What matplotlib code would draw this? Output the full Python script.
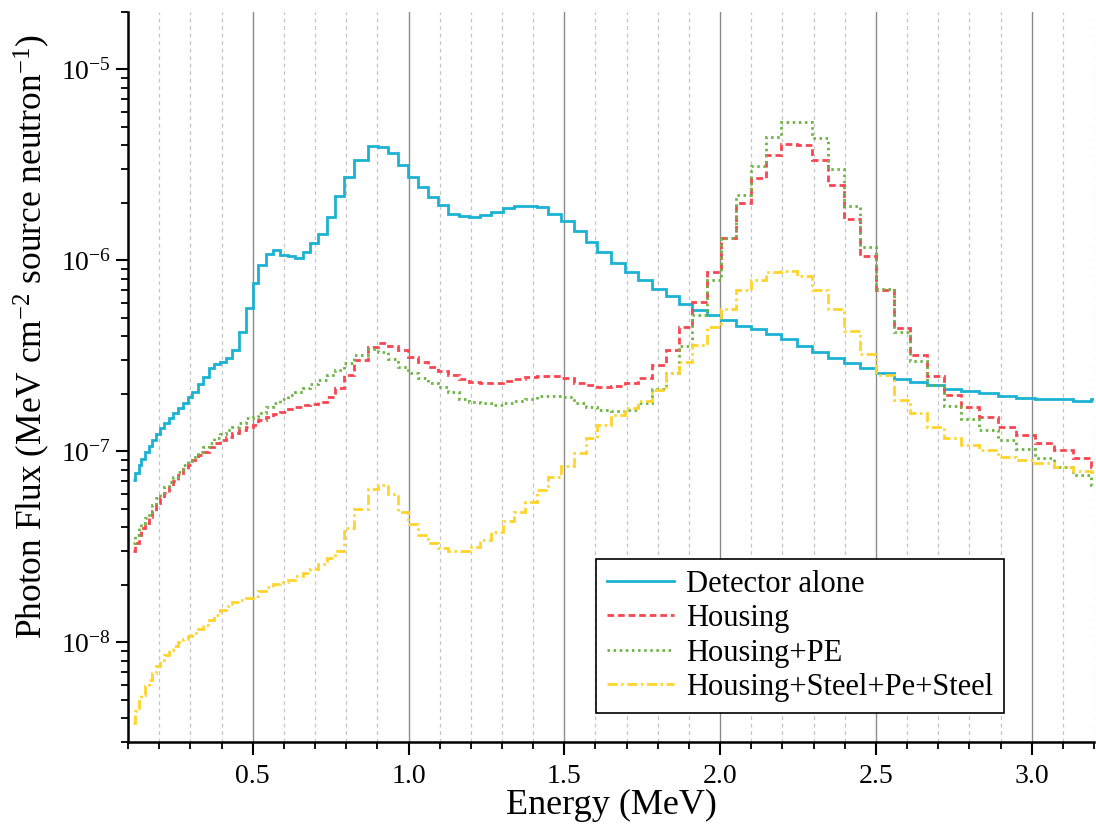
import matplotlib
matplotlib.use("Agg")
import matplotlib.pyplot as plt
from matplotlib.ticker import MultipleLocator, LogLocator, NullFormatter, FixedLocator, FixedFormatter

plt.rcParams['font.family'] = ['Liberation Serif', 'DejaVu Serif']
plt.rcParams['mathtext.fontset'] = 'custom'
plt.rcParams['mathtext.rm'] = 'Liberation Serif'
plt.rcParams['mathtext.it'] = 'Liberation Serif:italic'

# Bin edges (MeV), shared by all spectra
energy_edges = [
    0.116, 0.121, 0.134, 0.142, 0.153, 0.166, 0.178, 0.190, 0.203, 0.217,
    0.231, 0.244, 0.260, 0.276, 0.292, 0.306, 0.324, 0.342, 0.359, 0.377,
    0.396, 0.415, 0.434, 0.455, 0.477, 0.500, 0.518, 0.543, 0.564, 0.589,
    0.613, 0.637, 0.661, 0.685, 0.711, 0.739, 0.764, 0.792, 0.826, 0.869,
    0.901, 0.933, 0.965, 0.997, 1.029, 1.061, 1.094, 1.126, 1.161, 1.195,
    1.229, 1.264, 1.302, 1.339, 1.374, 1.411, 1.449, 1.489, 1.530, 1.569,
    1.606, 1.651, 1.694, 1.735, 1.780, 1.825, 1.868, 1.911, 1.957, 2.002,
    2.050, 2.098, 2.146, 2.194, 2.245, 2.296, 2.346, 2.397, 2.448, 2.501,
    2.557, 2.609, 2.665, 2.718, 2.774, 2.832, 2.892, 2.950, 3.010, 3.070,
    3.131, 3.191, 3.240,
]

detector_alone = [
    7.08e-8, 7.67e-8, 8.48e-8, 9.08e-8, 9.95e-8, 1.066e-7, 1.146e-7, 1.227e-7, 1.319e-7, 1.401e-7,
    1.488e-7, 1.580e-7, 1.678e-7, 1.782e-7, 1.929e-7, 2.049e-7, 2.248e-7, 2.436e-7, 2.716e-7, 2.860e-7,
    2.940e-7, 3.085e-7, 3.413e-7, 4.218e-7, 5.63e-7, 7.61e-7, 9.50e-7, 1.075e-6, 1.137e-6, 1.062e-6,
    1.049e-6, 1.033e-6, 1.105e-6, 1.231e-6, 1.379e-6, 1.684e-6, 2.161e-6, 2.748e-6, 3.36e-6, 3.99e-6,
    3.94e-6, 3.66e-6, 3.16e-6, 2.75e-6, 2.42e-6, 2.14e-6, 1.94e-6, 1.75e-6, 1.70e-6, 1.68e-6,
    1.72e-6, 1.79e-6, 1.88e-6, 1.92e-6, 1.92e-6, 1.90e-6, 1.75e-6, 1.60e-6, 1.42e-6, 1.25e-6,
    1.10e-6, 9.68e-7, 8.69e-7, 7.86e-7, 7.05e-7, 6.51e-7, 5.94e-7, 5.48e-7, 5.20e-7, 4.86e-7,
    4.53e-7, 4.36e-7, 4.10e-7, 3.88e-7, 3.58e-7, 3.32e-7, 3.09e-7, 2.90e-7, 2.72e-7, 2.56e-7,
    2.39e-7, 2.31e-7, 2.22e-7, 2.13e-7, 2.07e-7, 2.01e-7, 1.95e-7, 1.91e-7, 1.88e-7, 1.87e-7,
    1.84e-7, 1.87e-7,
]

housing = [
    2.99e-8, 3.30e-8, 3.65e-8, 3.96e-8, 4.20e-8, 4.55e-8, 4.89e-8, 5.35e-8, 5.68e-8, 6.03e-8,
    6.53e-8, 7.02e-8, 7.52e-8, 8.05e-8, 8.48e-8, 9.01e-8, 9.56e-8, 9.95e-8, 1.057e-7, 1.101e-7,
    1.146e-7, 1.192e-7, 1.242e-7, 1.292e-7, 1.345e-7, 1.373e-7, 1.458e-7, 1.517e-7, 1.567e-7, 1.611e-7,
    1.664e-7, 1.710e-7, 1.739e-7, 1.767e-7, 1.816e-7, 1.929e-7, 2.134e-7, 2.506e-7, 3.00e-7, 3.50e-7,
    3.67e-7, 3.55e-7, 3.41e-7, 3.12e-7, 2.94e-7, 2.77e-7, 2.64e-7, 2.51e-7, 2.40e-7, 2.31e-7,
    2.28e-7, 2.29e-7, 2.34e-7, 2.40e-7, 2.44e-7, 2.47e-7, 2.47e-7, 2.41e-7, 2.28e-7, 2.22e-7,
    2.18e-7, 2.20e-7, 2.27e-7, 2.42e-7, 2.83e-7, 3.38e-7, 4.48e-7, 6.05e-7, 8.69e-7, 1.31e-6,
    1.99e-6, 2.71e-6, 3.58e-6, 4.07e-6, 4.04e-6, 3.37e-6, 2.47e-6, 1.65e-6, 1.06e-6, 7.03e-7,
    4.40e-7, 3.19e-7, 2.49e-7, 1.97e-7, 1.70e-7, 1.51e-7, 1.34e-7, 1.22e-7, 1.10e-7, 1.02e-7,
    9.19e-8, 8.31e-8,
]

housing_pe = [
    3.30e-8, 3.65e-8, 3.96e-8, 4.20e-8, 4.46e-8, 4.83e-8, 5.24e-8, 5.68e-8, 6.03e-8, 6.53e-8,
    6.94e-8, 7.36e-8, 7.82e-8, 8.48e-8, 9.01e-8, 9.37e-8, 9.95e-8, 1.057e-7, 1.101e-7, 1.169e-7,
    1.231e-7, 1.292e-7, 1.345e-7, 1.411e-7, 1.488e-7, 1.506e-7, 1.592e-7, 1.698e-7, 1.782e-7, 1.869e-7,
    1.969e-7, 2.049e-7, 2.134e-7, 2.248e-7, 2.36e-7, 2.51e-7, 2.68e-7, 2.90e-7, 3.18e-7, 3.42e-7,
    3.32e-7, 3.06e-7, 2.75e-7, 2.58e-7, 2.41e-7, 2.27e-7, 2.16e-7, 2.05e-7, 1.89e-7, 1.82e-7,
    1.78e-7, 1.75e-7, 1.78e-7, 1.83e-7, 1.89e-7, 1.95e-7, 1.95e-7, 1.92e-7, 1.80e-7, 1.71e-7,
    1.64e-7, 1.62e-7, 1.64e-7, 1.78e-7, 2.11e-7, 2.56e-7, 3.58e-7, 5.16e-7, 7.93e-7, 1.31e-6,
    2.19e-6, 3.14e-6, 4.45e-6, 5.28e-6, 5.28e-6, 4.36e-6, 3.02e-6, 1.92e-6, 1.17e-6, 7.11e-7,
    4.22e-7, 2.98e-7, 2.23e-7, 1.72e-7, 1.47e-7, 1.30e-7, 1.15e-7, 1.03e-7, 9.26e-8, 8.31e-8,
    7.52e-8, 6.66e-8,
]

housing_steel_pe_steel = [
    3.79e-9, 4.35e-9, 4.91e-9, 5.32e-9, 5.88e-9, 6.37e-9, 6.91e-9, 7.48e-9, 8.11e-9, 8.61e-9,
    9.07e-9, 9.52e-9, 9.99e-9, 1.041e-8, 1.074e-8, 1.118e-8, 1.173e-8, 1.236e-8, 1.312e-8, 1.394e-8,
    1.481e-8, 1.553e-8, 1.616e-8, 1.669e-8, 1.703e-8, 1.737e-8, 1.845e-8, 1.946e-8, 2.018e-8, 2.056e-8,
    2.124e-8, 2.211e-8, 2.30e-8, 2.42e-8, 2.58e-8, 2.76e-8, 3.02e-8, 3.96e-8, 4.97e-8, 6.33e-8,
    6.66e-8, 5.98e-8, 4.83e-8, 4.17e-8, 3.65e-8, 3.30e-8, 3.11e-8, 3.02e-8, 2.99e-8, 3.17e-8,
    3.44e-8, 3.80e-8, 4.29e-8, 4.83e-8, 5.45e-8, 6.28e-8, 7.36e-8, 8.38e-8, 9.76e-8, 1.169e-7,
    1.373e-7, 1.548e-7, 1.678e-7, 1.84e-7, 2.09e-7, 2.56e-7, 2.94e-7, 3.62e-7, 4.48e-7, 5.59e-7,
    6.97e-7, 7.93e-7, 8.69e-7, 8.79e-7, 8.25e-7, 6.97e-7, 5.54e-7, 4.27e-7, 3.23e-7, 2.51e-7,
    1.85e-7, 1.58e-7, 1.345e-7, 1.169e-7, 1.079e-7, 1.02e-7, 9.37e-8, 9.01e-8, 8.66e-8, 8.31e-8,
    7.92e-8, 7.82e-8,
]

series_labels = ["Detector alone", "Housing", "Housing+PE", "Housing+Steel+Pe+Steel"]
x_major_ticks = [0.5, 1.0, 1.5, 2.0, 2.5, 3.0]
x_major_labels = ["0.5", "1.0", "1.5", "2.0", "2.5", "3.0"]

fig = plt.figure(figsize=(10.96, 8.33), dpi=100)
ax = fig.add_axes([0.1168, 0.1092, 0.8815, 0.8764])

styles = [
    dict(color="#1BB2D3", linestyle="-", lw=2.0),
    dict(color="#F8454F", linestyle=(0, (2.4, 1.4)), lw=2.0),
    dict(color="#6DB443", linestyle=(0, (0.9, 1.3)), lw=2.0),
    dict(color="#FFD42C", linestyle=(0, (3.6, 1.3, 0.9, 1.3)), lw=2.0),
]
data = [detector_alone, housing, housing_pe, housing_steel_pe_steel]
handles = []
for vals, st, lab in zip(data, styles, series_labels):
    ax.stairs(vals, energy_edges, baseline=None, zorder=3, **st)
    h, = ax.plot([], [], label=lab, **st)
    handles.append(h)

ax.set_yscale("log")
ax.set_xlim(0.1, 3.2)
ax.set_ylim(3e-9, 2e-5)

ax.xaxis.set_major_locator(FixedLocator(x_major_ticks))
ax.xaxis.set_major_formatter(FixedFormatter(x_major_labels))
ax.xaxis.set_minor_locator(MultipleLocator(0.1))
ax.yaxis.set_major_locator(LogLocator(base=10, numticks=10))
ax.yaxis.set_minor_locator(LogLocator(base=10, subs=range(2, 10), numticks=20))
ax.yaxis.set_minor_formatter(NullFormatter())

ax.grid(True, axis="x", which="major", color="#8a8a8a", lw=1.0, linestyle="-")
ax.grid(True, axis="x", which="minor", color="#c4c4c4", lw=0.9, linestyle=(0, (3, 3)))
ax.set_axisbelow(True)

for s in ["top", "right"]:
    ax.spines[s].set_visible(False)
for s in ["left", "bottom"]:
    ax.spines[s].set_linewidth(1.8)

ax.tick_params(axis="both", which="major", direction="out", length=9, width=1.5, labelsize=20)
ax.tick_params(axis="both", which="minor", direction="out", length=5, width=1.3)
ax.tick_params(axis="x", which="major", pad=7)

ax.set_xlabel("Energy (MeV)", fontsize=26, labelpad=0)
ax.set_ylabel("Photon Flux (MeV cm$^{-2}$ source neutron$^{-1}$)", fontsize=25.5)
ax.yaxis.set_label_coords(-0.079, 0.555)

leg = ax.legend(handles=handles, loc="lower right", bbox_to_anchor=(0.907, 0.04),
                borderaxespad=0.0, fontsize=22, frameon=True, fancybox=False,
                handlelength=2.2, labelspacing=0.18, borderpad=0.35, handletextpad=0.4)
leg.get_frame().set_edgecolor("black")
leg.get_frame().set_linewidth(1.2)
leg.get_frame().set_alpha(1)

fig.savefig("out.png", dpi=100)
